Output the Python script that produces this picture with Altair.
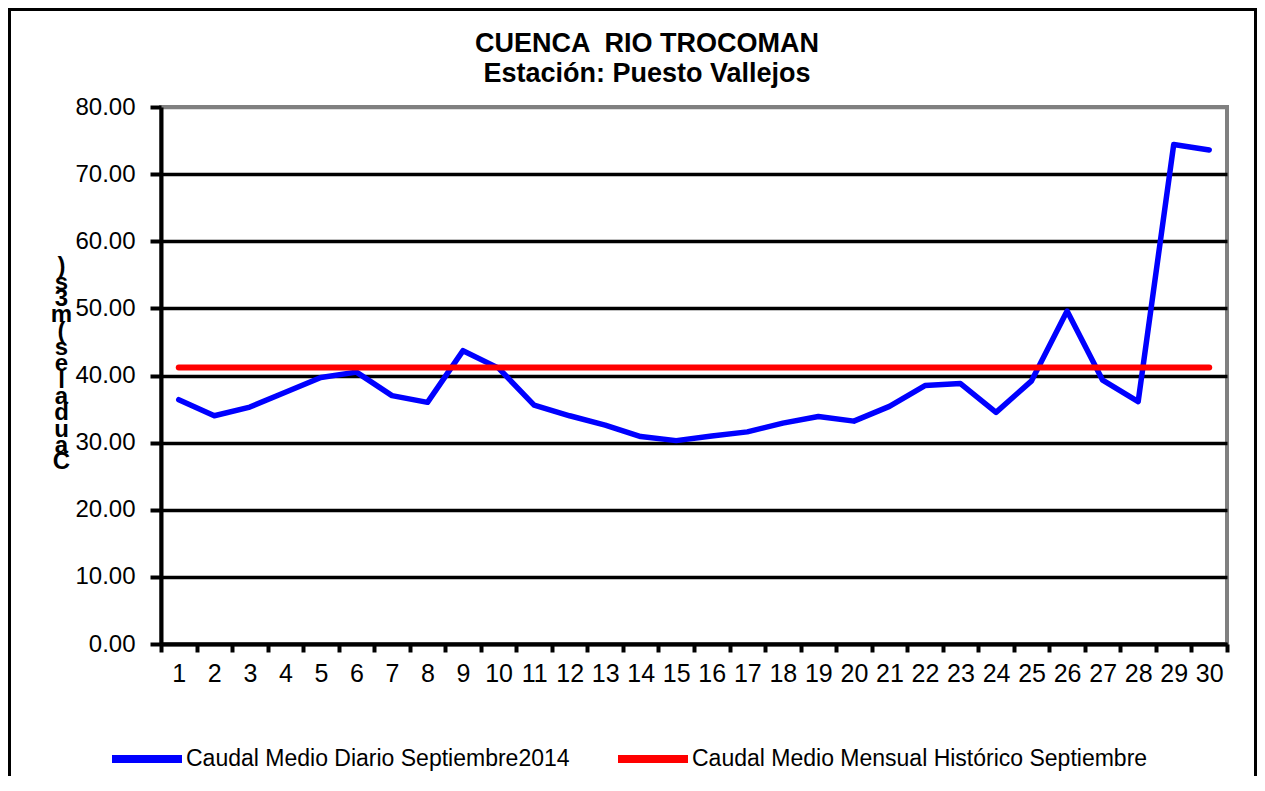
import altair as alt
import pandas as pd

# ---------------- data ----------------
days = list(range(1, 31))
caudal_diario = [36.4, 34.0, 35.3, 37.5, 39.7, 40.5, 37.0, 36.0, 43.7, 41.1,
                 35.6, 34.0, 32.6, 30.9, 30.3, 31.0, 31.6, 32.9, 33.9, 33.2,
                 35.4, 38.5, 38.8, 34.5, 39.2, 49.6, 39.3, 36.1, 74.4, 73.6]
caudal_historico = 41.2
serie_diaria = "Caudal Medio Diario Septiembre2014"
serie_historica = "Caudal Medio Mensual Histórico Septiembre"
title_lines = ["CUENCA \u00a0RIO TROCOMAN", "Estación: Puesto Vallejos"]
y_title_chars = [")", "s", "3", "m", "(", "s", "e", "l", "a", "d", "u", "a", "C"]
y_ticks = [0, 10, 20, 30, 40, 50, 60, 70, 80]

df_d = pd.DataFrame({"dia": days, "caudal": caudal_diario, "serie": serie_diaria})
df_h = pd.DataFrame({"dia": [days[0], days[-1]],
                     "caudal": [caudal_historico, caudal_historico],
                     "serie": serie_historica})

FONT = "Liberation Sans"
PLOT_W, PLOT_H = 1066, 537

x_enc = alt.X(
    "dia:O",
    scale=alt.Scale(type="band", domain=days, paddingInner=0, paddingOuter=0),
    axis=alt.Axis(
        title=None, labelAngle=0, labelFontSize=25, labelColor="black",
        labelFont=FONT, labelPadding=9, tickBand="extent", tickSize=8,
        tickWidth=4, tickColor="black", domainColor="black", domainWidth=4,
        grid=False,
    ),
)
y_enc = alt.Y(
    "caudal:Q",
    scale=alt.Scale(domain=[0, 80], nice=False, zero=True),
    axis=alt.Axis(
        values=y_ticks, format=".2f", labelFontSize=24, labelColor="black",
        labelFont=FONT, labelPadding=15, tickSize=11, tickWidth=4,
        tickColor="black", domainColor="black", domainWidth=4,
        grid=True, gridWidth=3.5,
        gridColor={"condition": {"test": "datum.value === 80", "value": "#808080"},
                   "value": "black"},
        title=y_title_chars, titleAngle=0, titleFontSize=24,
        titleFontWeight="bold", titleFont=FONT, titleColor="black",
        titleLineHeight=16.3, titleAlign="center", titleBaseline="middle",
        titleX=-100, titleY=159,
    ),
)
color_enc = alt.Color(
    "serie:N",
    scale=alt.Scale(domain=[serie_diaria, serie_historica],
                    range=["#0000FF", "#FF0000"]),
    legend=alt.Legend(
        orient="none", legendX=-53, legendY=613, direction="horizontal",
        columns=2, title=None, symbolType="stroke", symbolSize=4900,
        symbolStrokeWidth=8, labelFontSize=23, labelFont=FONT,
        labelColor="black", labelOffset=0, labelLimit=0, columnPadding=32,
    ),
)

frame = alt.Chart(pd.DataFrame({"k": [0]})).mark_rect(
    fill="transparent", stroke="black", strokeWidth=3
).encode(
    x=alt.value(-151.5), x2=alt.value(1094.5), y=alt.value(-97.5), y2=alt.value(720)
)

linea_diaria = alt.Chart(df_d).mark_line(
    strokeWidth=5.5, strokeJoin="round", strokeCap="round"
).encode(x=x_enc, y=y_enc, color=color_enc)

linea_hist = alt.Chart(df_h).mark_line(
    strokeWidth=6, strokeCap="round"
).encode(x=x_enc, y=y_enc, color=color_enc)

chart = alt.layer(frame, linea_diaria, linea_hist).properties(
    width=PLOT_W, height=PLOT_H,
    title=alt.TitleParams(
        text=title_lines, fontSize=27, fontWeight="bold", font=FONT,
        color="black", anchor="middle", frame="group", lineHeight=30,
        offset=20, dx=-47, dy=99.5,
    ),
    autosize=alt.AutoSizeParams(type="none"),
    padding={"left": 153, "top": 99, "right": 30, "bottom": 132},
).configure(
    font=FONT, background="white"
).configure_view(
    stroke="#808080", strokeWidth=4
)

chart.save("out.html", embed_options={"renderer": "svg", "actions": False})
